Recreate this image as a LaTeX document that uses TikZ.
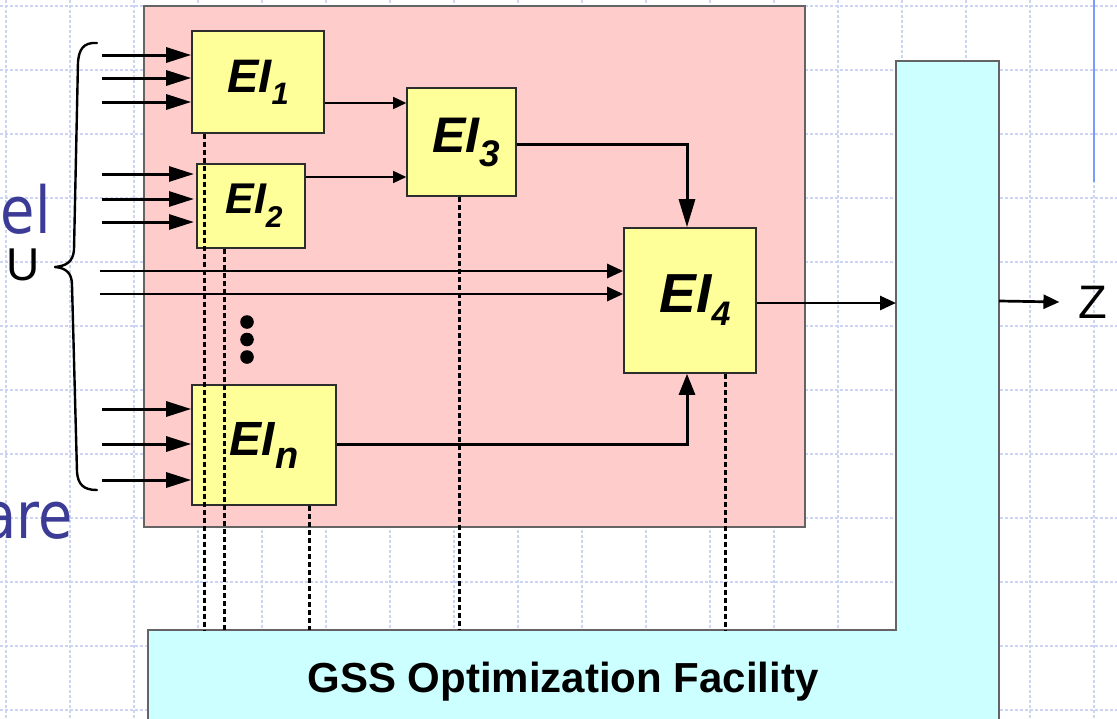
\documentclass[tikz,border=0pt]{standalone}
\usepackage{fontspec}
\setmainfont{Liberation Sans}
\newfontfamily\slidefont[FakeStretch=0.86]{DejaVu Sans}
\usetikzlibrary{arrows.meta}
\definecolor{pinkbg}{RGB}{255,204,204}
\definecolor{yellowbox}{RGB}{255,255,153}
\definecolor{cyanbg}{RGB}{204,255,255}
\definecolor{gridblue}{RGB}{205,213,245}
\definecolor{slideblue}{RGB}{60,60,150}
\definecolor{barblue}{RGB}{125,155,255}
\definecolor{boxline}{RGB}{45,45,45}
\definecolor{frameline}{RGB}{100,100,100}
\newcommand{\eilabel}[4]{{\fontsize{#1}{#1}\selectfont\bfseries\itshape EI\raisebox{-#3pt}{\fontsize{#2}{#2}\selectfont #4}}}
\begin{document}
\begin{tikzpicture}[x=1pt,y=-1pt,
  gridln/.style={gridblue, line width=1.6pt, dash pattern=on 3pt off 2pt},
  eibox/.style={draw=boxline, line width=1.6pt, fill=yellowbox, inner sep=0pt},
  pinkframe/.style={draw=frameline, line width=1.6pt, fill=pinkbg, inner sep=0pt},
  cyanframe/.style={draw=frameline, line width=1.6pt, fill=cyanbg},
  inarr/.style={line width=3pt, -{Triangle[length=25pt,width=15pt]}},
  thinarr/.style={line width=1.5pt, -{Triangle[length=13pt,width=12pt]}},
  midarr/.style={line width=2.7pt, -{Triangle[length=16pt,width=14pt]}},
  bigarr/.style={line width=3pt, -{Triangle[length=#1,width=16pt]}},
  dashln/.style={line width=2.6pt, dash pattern=on 5pt off 3pt},
  bracestyle/.style={line width=2.4pt, line join=round, line cap=round}]
\useasboundingbox (0,0) rectangle (1117,718);
\fill[white] (0,0) rectangle (1117,718);
% slide grid
\foreach \k in {0,...,17} \draw[gridln] (6+64*\k,0) -- (6+64*\k,718);
\foreach \k in {0,...,11} \draw[gridln] (0,6+64*\k) -- (1117,6+64*\k);
% thin blue bar top right
\draw[barblue, line width=2.2pt] (1094,0) -- (1094,182);
% slide text fragments
\node[anchor=base east, inner sep=0pt, text=slideblue, font=\slidefont\fontsize{65}{65}\selectfont] (el) at (51,233) {el};
\node[anchor=base east, inner sep=0pt, text=slideblue, font=\slidefont\fontsize{65}{65}\selectfont] (are) at (73,538) {are};
\node[anchor=base east, inner sep=0pt, font=\fontsize{46}{46}\selectfont] (u) at (40,280) {U};
% brace
\draw[bracestyle] (97,43) .. controls (83,42) and (79,50) .. (78,62) -- (74,250)
  .. controls (73,262) and (66,266) .. (55,267)
  .. controls (66,268) and (72,273) .. (72,285) -- (77,472)
  .. controls (78,484) and (83,490) .. (97,490);
% pink ensemble area
\node[pinkframe, minimum width=661pt, minimum height=521pt] (ens) at (474.5,266.5) {};
% cyan L-shaped GSS facility
\draw[cyanframe] (148,722) -- (148,630) -- (896,630) -- (896,61) -- (999,61) -- (999,722);
\node[font=\bfseries\fontsize{42}{42}\selectfont, inner sep=0pt] (gss) at (563,682) {GSS Optimization Facility};
\coordinate (gssTop) at (148,630);
\coordinate (barW) at (896,303);
\coordinate (barE) at (999,301);
% EI boxes
\node[eibox, minimum width=132pt, minimum height=102pt] (ei1) at (258,82) {\eilabel{47}{31}{12}{1}};
\node[eibox, minimum width=108pt, minimum height=84pt] (ei2) at (251,206) {\hspace*{6pt}\eilabel{43}{30}{14}{2}};
\node[eibox, minimum width=109pt, minimum height=108pt] (ei3) at (461.5,142) {\hspace*{10pt}\eilabel{50}{37}{14}{3}};
\node[eibox, minimum width=132pt, minimum height=145pt] (ei4) at (690,300.5) {\hspace*{10pt}\eilabel{55}{34}{13}{4}};
\node[eibox, minimum width=144pt, minimum height=120pt] (ein) at (264,445) {\eilabel{48}{38}{13}{n}};
% dots
\fill (247,322) circle (6.8pt);
\fill (247,339.5) circle (6.8pt);
\fill (247,357) circle (6.8pt);
% inputs
\foreach \yy [count=\i] in {55,78,102} {
  \coordinate (a\i) at (102,\yy);
  \draw[inarr] (a\i) -- (a\i -| ei1.west);
}
\foreach \yy [count=\i] in {174,199,222} {
  \coordinate (b\i) at (102,\yy);
  \coordinate (be\i) at (194,\yy);
  \draw[inarr] (b\i) -- (be\i);
}
\foreach \yy [count=\i] in {409,444,480} {
  \coordinate (c\i) at (102,\yy);
  \draw[inarr] (c\i) -- (c\i -| ein.west);
}
\foreach \yy [count=\i] in {271,294} {
  \coordinate (u\i) at (100,\yy);
  \draw[midarr] (u\i) -- (u\i -| ei4.west);
}
% internal connections
\path ([yshift=-21pt]ei1.east) coordinate (o1);
\draw[thinarr] (o1) -- (o1 -| ei3.west);
\path ([yshift=29pt]ei2.east) coordinate (o2);
\draw[thinarr] (o2) -- (o2 -| ei3.west);
\draw[bigarr=28pt] ([yshift=-2pt]ei3.east) -| ([xshift=-3pt]ei4.north);
\draw[bigarr=21pt] ([yshift=1pt]ein.east) -| ([xshift=-3pt]ei4.south);
\draw[midarr] ([yshift=-2.5pt]ei4.east) -- (barW);
% output Z
\node[inner sep=0pt, font=\fontsize{47}{47}\selectfont] (z) at (1093,302) {Z};
\draw[midarr] (barE) -- ([xshift=-19pt]z.west);
% dashed links to GSS
\path ([xshift=13pt]ei1.south west) coordinate (d1);
\path ([xshift=28pt]ei2.south west) coordinate (d2);
\path ([xshift=118pt]ein.south west) coordinate (d3);
\path ([xshift=53pt]ei3.south west) coordinate (d4);
\path ([xshift=102pt]ei4.south west) coordinate (d5);
\foreach \d in {d1,d2,d3,d4,d5} \draw[dashln] (\d) -- (\d |- gssTop);
\end{tikzpicture}
\end{document}
